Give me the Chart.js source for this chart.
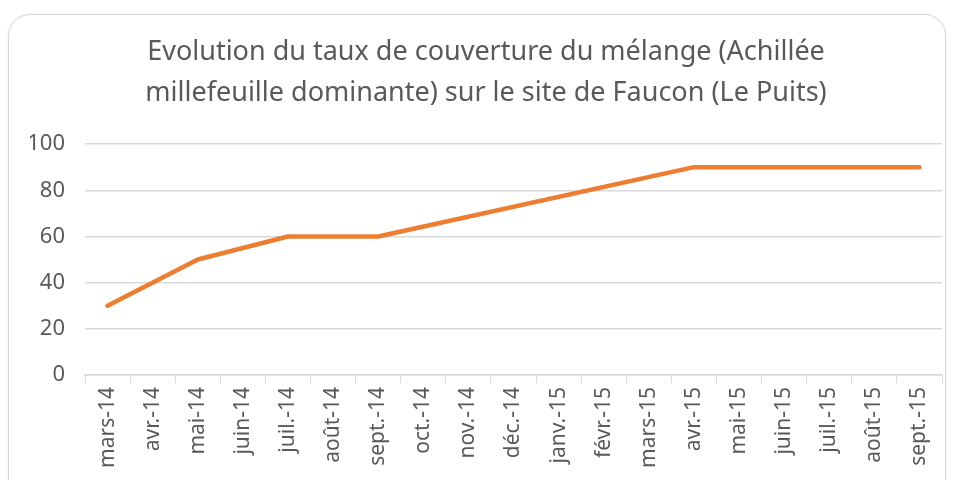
<!DOCTYPE html>
<html>
<head>
<meta charset="utf-8">
<script src="https://cdn.jsdelivr.net/npm/chart.js"></script>
<style>
  html, body { margin: 0; padding: 0; background: #fff; }
  body { width: 958px; height: 480px; position: relative; overflow: hidden; }
  .card {
    position: absolute; left: 8px; top: 14px; width: 938px; height: 500px;
    border: 1.5px solid #d6d6d6; border-radius: 22px; box-sizing: border-box;
    box-shadow: 0 0 3px rgba(0,0,0,0.08);
  }
  #wrap { position: absolute; left: 0; top: 0; width: 958px; height: 480px; }
</style>
</head>
<body>
<div class="card"></div>
<div id="wrap"><canvas id="myChart"></canvas></div>
<script>
const months = ["mars-14", "avr.-14", "mai-14", "juin-14", "juil.-14", "août-14", "sept.-14",
  "oct.-14", "nov.-14", "déc.-14", "janv.-15", "févr.-15", "mars-15", "avr.-15",
  "mai-15", "juin-15", "juil.-15", "août-15", "sept.-15"];
// relevés (les mois sans relevé sont reliés par la ligne)
const coverage = [30, null, 50, null, 60, 60, 60, null, null, null, null, null, null, 90,
  90, 90, 90, 90, 90];
const titleLines = ["Evolution du taux de couverture du mélange (Achillée",
  "millefeuille dominante) sur le site de Faucon (Le Puits)"];

const grey = "#595959";
const gridGrey = "#d9d9d9";
const font = "'Noto Sans', 'Open Sans', sans-serif";

const canvas = document.getElementById("myChart");
new Chart(canvas, {
  type: "line",
  data: {
    labels: months,
    datasets: [
      {
        label: "Taux de couverture",
        data: coverage,
        borderColor: "#ED7D31",
        backgroundColor: "#ED7D31",
        borderWidth: 4.5,
        pointRadius: 0,
        spanGaps: true,
        tension: 0,
        borderCapStyle: "round",
        borderJoinStyle: "round",
      },
    ],
  },
  options: {
    responsive: true,
    maintainAspectRatio: false,
    animation: false,
    layout: { padding: { left: 30, right: 16, top: 0, bottom: 0 } },
    plugins: {
      legend: { display: false },
      tooltip: { enabled: false },
      title: {
        display: true,
        text: titleLines,
        color: grey,
        font: { family: font, size: 27, weight: "normal", lineHeight: 1.52 },
        padding: { top: 32, bottom: 30 },
      },
    },
    scales: {
      x: {
        offset: true,
        grid: {
          offset: true,
          drawOnChartArea: false,
          drawTicks: true,
          tickLength: 8,
          color: gridGrey,
        },
        border: { color: gridGrey, width: 1.5 },
        ticks: {
          color: grey,
          font: { family: font, size: 21 },
          minRotation: 90,
          maxRotation: 90,
          autoSkip: false,
          padding: 4,
        },
        afterFit: (scale) => { scale.height = 105; },
      },
      y: {
        min: 0,
        max: 100,
        grid: { color: gridGrey, lineWidth: 1.5, drawTicks: false },
        border: { display: false },
        ticks: {
          stepSize: 20,
          color: grey,
          font: { family: font, size: 22 },
          padding: 20,
        },
        afterFit: (scale) => { scale.width = 55; },
      },
    },
  },
});
</script>
</body>
</html>
